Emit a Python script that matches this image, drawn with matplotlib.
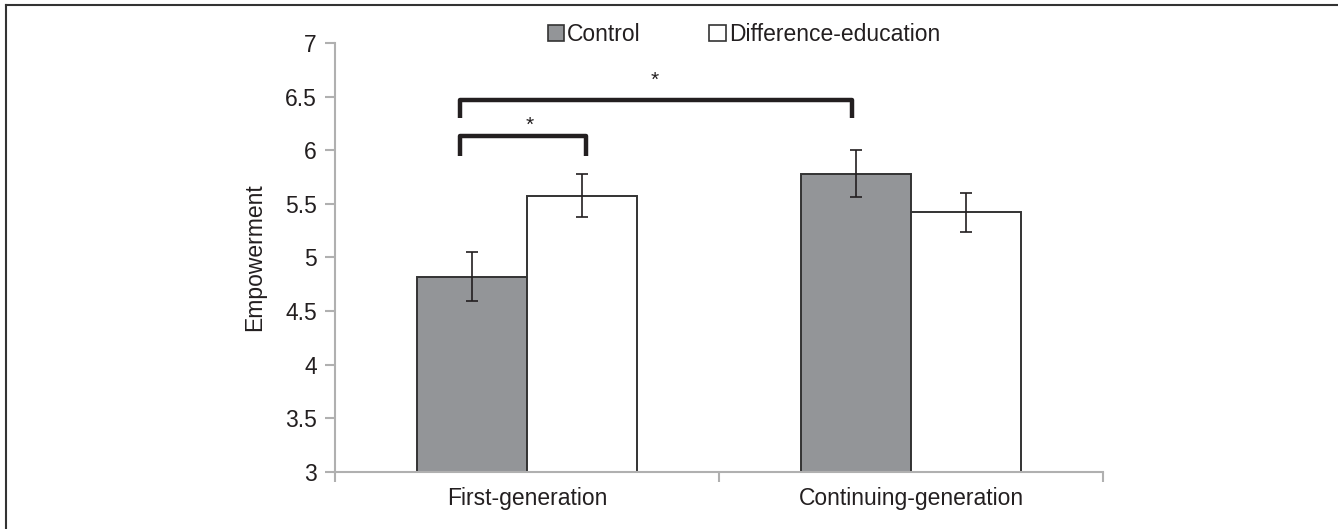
import numpy as np
import matplotlib
matplotlib.use("Agg")
import matplotlib.pyplot as plt
from matplotlib.patches import Patch
from matplotlib.lines import Line2D

plt.rcParams['font.family'] = ['Liberation Sans', 'DejaVu Sans']

groups = ["First-generation", "Continuing-generation"]
conditions = ["Control", "Difference-education"]
control_means = [4.82, 5.78]
control_err = [0.23, 0.22]
diffed_means = [5.575, 5.42]
diffed_err = [0.20, 0.18]

# significance brackets: (x_left, x_right, top, leg_bottom, star_x, star_y)
brackets = [(-0.174, 0.154, 6.13, 5.95, 0.008, 6.23),
            (-0.174, 0.846, 6.47, 6.30, 0.333, 6.65)]

fig = plt.figure(figsize=(13.38, 5.29), dpi=100)
ax = fig.add_axes([0.2504, 0.1078, 0.8244 - 0.2504, 0.9187 - 0.1078])

x = np.arange(len(groups))
w = 0.286
txt = '#231f20'
fs = 16.5
ax.bar(x - w / 2, control_means, w, color='#939598', edgecolor='#333333', linewidth=1.4, zorder=2)
ax.bar(x + w / 2, diffed_means, w, color='white', edgecolor='#333333', linewidth=1.4, zorder=2)
ax.errorbar(x - w / 2, control_means, yerr=control_err, fmt='none', ecolor='#231f20',
            elinewidth=1.2, capsize=4.5, capthick=1.2, zorder=3)
ax.errorbar(x + w / 2, diffed_means, yerr=diffed_err, fmt='none', ecolor='#231f20',
            elinewidth=1.2, capsize=4.5, capthick=1.2, zorder=3)

for x0, x1, top, bot, sx, sy in brackets:
    ax.plot([x0, x0, x1, x1], [bot, top, top, bot], color='#231f20', lw=3.2,
            solid_joinstyle='round', solid_capstyle='butt', zorder=4)
    ax.text(sx, sy, '*', ha='center', va='center', fontsize=15, color=txt)

ax.set_xlim(-0.5, 1.5)
ax.set_ylim(3, 7)
ax.set_yticks(np.arange(3, 7.01, 0.5))
ax.set_yticklabels(['3', '3.5', '4', '4.5', '5', '5.5', '6', '6.5', '7'])
ax.set_xticks([-0.5, 0.5, 1.5])
ax.set_xticklabels([])
ax.set_xticks(x, minor=True)
ax.set_xticklabels(groups, minor=True)
ax.tick_params(axis='x', which='minor', length=0, pad=11, labelsize=fs, labelcolor=txt)
ax.tick_params(axis='x', which='major', length=7, color='#b0b0b0', width=1.5)
ax.tick_params(axis='y', length=7, color='#b0b0b0', width=1.5, labelsize=fs, labelcolor=txt, pad=6)

for s in ['top', 'right']:
    ax.spines[s].set_visible(False)
for s in ['left', 'bottom']:
    ax.spines[s].set_color('#b0b0b0')
    ax.spines[s].set_linewidth(1.5)

ax.set_ylabel('Empowerment', fontsize=fs, color=txt, labelpad=14)

handles = [Patch(facecolor='#939598', edgecolor='#333333', linewidth=1.2),
           Patch(facecolor='white', edgecolor='#333333', linewidth=1.2)]
fig.legend(handles, conditions, loc='center', bbox_to_anchor=(0.556, 0.934), ncol=2,
           frameon=False, fontsize=fs, handlelength=0.7, handleheight=0.7,
           handletextpad=0.15, columnspacing=3.0, labelcolor=txt)

# thin frame lines along the top and left edges
fig.add_artist(Line2D([6 / 1338, 6 / 1338], [0, 1 - 5 / 529], transform=fig.transFigure,
                      color='#333333', lw=1.5))
fig.add_artist(Line2D([6 / 1338, 1], [1 - 5 / 529, 1 - 5 / 529], transform=fig.transFigure,
                      color='#333333', lw=1.5))

fig.savefig('out.png', dpi=100)
